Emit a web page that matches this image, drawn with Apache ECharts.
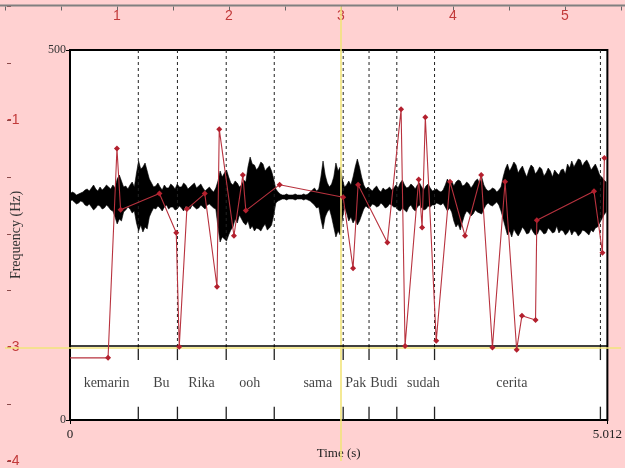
<!DOCTYPE html>
<html><head><meta charset="utf-8">
<script src="https://cdn.jsdelivr.net/npm/echarts@6/dist/echarts.min.js"></script>
<style>html,body{margin:0;padding:0;background:#ffd1d1}#c{width:625px;height:468px}</style>
</head><body><div id="c"></div><script>
// ---- data ----
const timeMax = 5.012;
const freqMax = 500;
const pitchTime = [0, 0.355, 0.438, 0.472, 0.834, 0.991, 1.019, 1.090, 1.257, 1.371, 1.392, 1.529, 1.612, 1.640, 1.955, 2.548, 2.640, 2.687, 2.960, 3.088, 3.125, 3.252, 3.284, 3.314, 3.416, 3.544, 3.684, 3.835, 3.940, 4.058, 4.166, 4.215, 4.342, 4.354, 4.887, 4.966, 4.984];
const pitchHz = [84, 84, 367, 284, 306, 253, 99, 285, 306, 180, 393, 249, 331, 283, 318, 301, 205, 318, 240, 420, 100, 325, 260, 409, 107, 322, 249, 331, 98, 322, 95, 141, 135, 270, 309, 226, 354];
const boundaryTimes = [0.637, 1.002, 1.457, 1.905, 2.548, 2.789, 3.048, 3.400, 4.947];
const wordLabels = ['kemarin', 'Bu', 'Rika', 'ooh', 'sama', 'Pak', 'Budi', 'sudah', 'cerita'];
const wordTimes = [0.341, 0.852, 1.226, 1.677, 2.311, 2.665, 2.928, 3.296, 4.121];
const waveStep = 0.02;
const waveUpper = [3,5,4,2,3,4,5,7,8,6, 9,12,8,6,10,7,9,12,10,8, 12,9,18,22,16,10,11,8,12,15,
  10,24,36,28,30,34,26,18,14,10, 11,14,10,7,12,9,9,13,11,8, 13,10,10,14,12,8,10,12,14,9,
  11,13,9,6,8,10,7,5,9,16, 26,20,24,27,20,14,12,16,14,10, 12,17,15,30,40,33,32,27,30,35,
  33,26,29,31,26,18,8,5,3,2, 2,3,2,2,2,3,2,2,2,3, 2,3,5,7,9,6,8,20,36,22,
  14,10,13,20,34,26,30,18,10,12, 16,12,20,30,38,30,20,12,8,10, 8,6,9,11,7,5,9,7,8,10,
  7,9,12,9,14,17,12,9,10,13, 11,8,12,14,10,7,11,13,9,6, 7,8,6,5,7,12,18,13,16,11,
  15,17,16,11,12,15,13,9,12,16, 18,14,20,12,8,6,7,9,8,5, 7,10,20,28,33,26,30,35,32,24,
  28,31,25,20,27,32,30,23,26,30, 28,21,24,29,26,20,27,24,22,27, 28,23,33,29,36,30,34,38,37,31,
  35,37,33,27,30,33,28,22,20,17, 15];
const waveLower = [4,3,5,7,6,4,5,8,9,7, 10,13,11,8,9,12,11,8,10,13, 14,20,27,22,24,15,13,10,12,16,
  14,26,34,28,35,30,32,20,15,11, 12,9,11,14,10,8,12,10,10,13, 12,9,11,14,9,11,12,8,10,12,
  11,8,10,12,8,7,9,11,12,30, 45,40,42,44,38,33,30,22,26,18, 22,26,28,24,32,29,34,31,32,34,
  30,27,33,31,28,18,6,4,3,2, 2,3,2,2,2,3,2,2,2,3, 2,3,4,6,8,11,10,22,32,20,
  15,12,20,30,40,34,38,22,10,16, 24,20,26,22,28,24,18,12,9,11, 10,7,8,10,9,6,8,11,10,7,
  8,10,10,13,14,11,13,15,10,8, 12,14,10,8,11,13,12,9,10,8, 8,6,7,8,6,10,14,11,15,24,
  30,27,33,25,18,14,16,19,17,13, 15,16,17,12,8,6,8,9,7,5, 8,14,22,30,38,34,40,32,36,39,
  35,30,33,37,36,31,35,38,37,32, 34,37,36,31,33,36,35,29,36,33, 34,38,36,32,38,34,35,39,37,33,
  34,36,38,33,35,31,30,26,22,18, 15];
const topTickLabels = ['1', '2', '3', '4', '5'];
const sideTickLabels = {'-1': '-1', '-3': '-3', '-4': '-4'};
const cursorTop = 3;
const cursorSide = -3;
// ---- chart ----
const RED = '#c23a3a';
const SERIF = '"Liberation Serif", "DejaVu Serif", serif';
const tierLine = 100, tierTickTop = 81, tierTickBot = 18, tierText = 50;
const chart = echarts.init(document.getElementById('c'), null, {renderer: 'canvas'});
const option = {
  animation: false,
  backgroundColor: '#ffd1d1',
  graphic: [{type: 'line', shape: {x1: 0, y1: 5.5, x2: 625, y2: 5.5}, style: {stroke: '#808080', lineWidth: 2}, z: 10}],
  grid: [
    {left: 70, top: 50, width: 541, height: 370, show: true, backgroundColor: '#fff', borderColor: '#000', borderWidth: 2, z: 0},
    {left: 5, top: 6.5, width: 616, height: 458, show: false}
  ],
  xAxis: [
    {gridIndex: 0, type: 'value', min: 0, max: timeMax, interval: timeMax,
     axisLine: {show: false}, splitLine: {show: false},
     axisTick: {show: true, length: 4, lineStyle: {color: '#000'}},
     axisLabel: {margin: 8, color: '#222', fontFamily: SERIF, fontSize: 13, formatter: v => v === 0 ? '0' : String(timeMax)},
     name: 'Time (s)', nameLocation: 'middle', nameGap: 27,
     nameTextStyle: {color: '#222', fontFamily: SERIF, fontSize: 13}},
    {gridIndex: 1, type: 'value', position: 'top', min: 0, max: 5.5, interval: 0.5,
     axisLine: {show: false}, splitLine: {show: false},
     axisTick: {show: true, inside: true, length: 4, lineStyle: {color: '#666'}},
     axisLabel: {inside: true, margin: 3, color: RED, fontSize: 14, fontFamily: '"Liberation Sans", Arial, sans-serif',
       formatter: v => (v % 1 === 0 && v >= 1) ? topTickLabels[v - 1] : ''}}
  ],
  yAxis: [
    {gridIndex: 0, type: 'value', min: 0, max: freqMax, interval: freqMax,
     axisLine: {show: false}, splitLine: {show: false},
     axisTick: {show: true, length: 4, lineStyle: {color: '#000'}},
     axisLabel: {margin: 4, color: '#333', fontFamily: SERIF, fontSize: 12},
     name: 'Frequency (Hz)', nameLocation: 'middle', nameGap: 47, nameRotate: 90,
     nameTextStyle: {color: '#333', fontFamily: SERIF, fontSize: 14}},
    {gridIndex: 0, type: 'value', min: -223, max: 147, show: false},
    {gridIndex: 1, type: 'value', min: -4, max: 0, interval: 0.5, offset: -2,
     axisLine: {show: false}, splitLine: {show: false},
     axisTick: {show: true, inside: true, length: 4, lineStyle: {color: '#8a4a4a'}},
     axisLabel: {inside: true, margin: 0, color: RED, fontSize: 14, fontFamily: '"Liberation Sans", Arial, sans-serif',
       formatter: v => sideTickLabels[String(v)] || ''}}
  ],
  series: [
    {type: 'line', xAxisIndex: 1, yAxisIndex: 2, data: [[0, -4]], symbol: 'none', lineStyle: {opacity: 0}, z: 1, silent: true,
     markLine: {silent: true, symbol: 'none', label: {show: false},
       lineStyle: {color: '#f2e47a', width: 1.6, type: 'solid'},
       data: [{xAxis: cursorTop}, {yAxis: cursorSide}]}},
    {type: 'custom', xAxisIndex: 0, yAxisIndex: 1, data: [[0, 0]], z: 3, silent: true,
     renderItem: function (params, api) {
       const pts = [];
       for (let i = 0; i < waveUpper.length; i++) pts.push(api.coord([i * waveStep, waveUpper[i]]));
       for (let i = waveLower.length - 1; i >= 0; i--) pts.push(api.coord([i * waveStep, -waveLower[i]]));
       return {type: 'polygon', shape: {points: pts}, style: {fill: '#000', stroke: '#000', lineWidth: 0.6}};
     }},
    {type: 'custom', xAxisIndex: 0, yAxisIndex: 0, data: boundaryTimes.map(t => [t]), z: 4, silent: true,
     renderItem: function (params, api) {
       const t = api.value(0);
       const a = api.coord([t, freqMax]), b = api.coord([t, tierLine]), c = api.coord([t, tierTickTop]);
       const d = api.coord([t, tierTickBot]), e = api.coord([t, 0]);
       return {type: 'group', children: [
         {type: 'line', shape: {x1: a[0], y1: a[1], x2: b[0], y2: b[1]}, style: {stroke: '#222', lineWidth: 1, lineDash: [3, 3]}},
         {type: 'line', shape: {x1: b[0], y1: b[1], x2: c[0], y2: c[1]}, style: {stroke: '#222', lineWidth: 1.3}},
         {type: 'line', shape: {x1: d[0], y1: d[1], x2: e[0], y2: e[1]}, style: {stroke: '#222', lineWidth: 1.3}}
       ]};
     },
     markLine: {silent: true, symbol: 'none', label: {show: false},
       lineStyle: {color: '#000', width: 1.5, type: 'solid'}, data: [{yAxis: tierLine}]}},
    {type: 'scatter', xAxisIndex: 0, yAxisIndex: 0, symbolSize: 0, z: 4, silent: true,
     data: wordTimes.map((t, i) => ({value: [t, tierText], name: wordLabels[i]})),
     label: {show: true, position: 'inside', formatter: p => p.name, color: '#111', fontFamily: SERIF, fontSize: 14}},
    {type: 'line', xAxisIndex: 0, yAxisIndex: 0, z: 5, silent: true,
     data: pitchTime.map((t, i) => i === 0 ? {value: [t, pitchHz[i]], symbol: 'none'} : [t, pitchHz[i]]),
     symbol: 'diamond', symbolSize: 6,
     itemStyle: {color: '#b3202e'}, lineStyle: {color: '#b8323e', width: 1.1}}
  ]
};
chart.setOption(option);
</script></body></html>
